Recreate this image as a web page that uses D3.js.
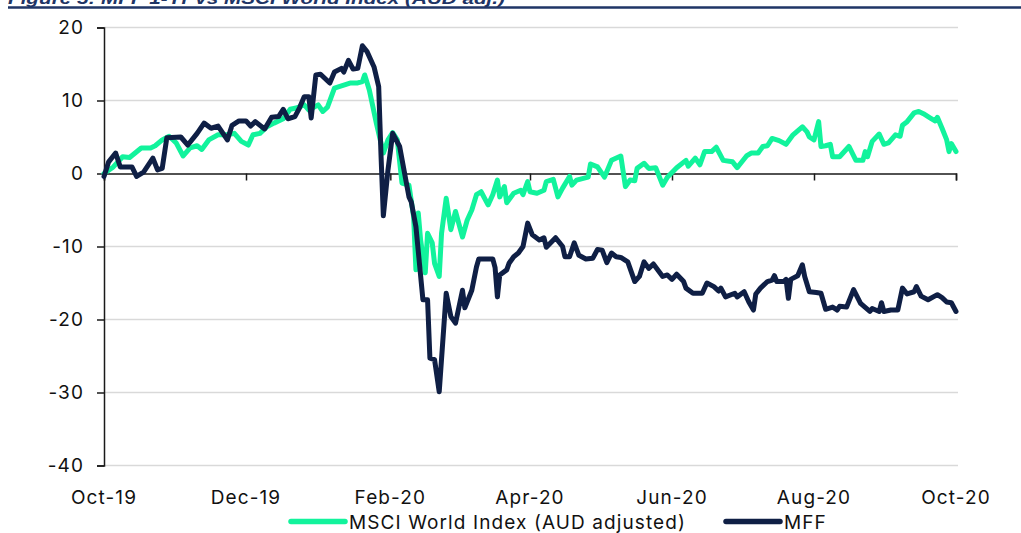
<!DOCTYPE html>
<html>
<head>
<meta charset="utf-8">
<script src="https://cdn.jsdelivr.net/npm/d3@7"></script>
<style>
  html, body { margin: 0; padding: 0; background: #fff; }
  svg { display: block; }
  text { font-family: Inter, "Noto Sans", sans-serif; fill: #111; }
</style>
</head>
<body>
<svg id="chart" width="1021" height="533"></svg>
<script>
// ---------- DATA ----------
const titleText = "Figure 5: MFF 1-Yr vs MSCI World Index (AUD adj.)";
const xTickLabels = ["Oct-19", "Dec-19", "Feb-20", "Apr-20", "Jun-20", "Aug-20", "Oct-20"];
const xTickDates = ["2019-10-01", "2019-12-01", "2020-02-01", "2020-04-01", "2020-06-01", "2020-08-01", "2020-10-01"];
const yTicks = [20, 10, 0, -10, -20, -30, -40];
const yTickLabels = ["20", "10", "0", "-10", "-20", "-30", "-40"];
const seriesNames = ["MSCI World Index (AUD adjusted)", "MFF"];

const msciData = [
  ["2019-10-01", 0.0], ["2019-10-05", 0.9], ["2019-10-09", 2.3], ["2019-10-12", 2.2], ["2019-10-17", 3.5],
  ["2019-10-21", 3.5], ["2019-10-23", 3.8], ["2019-10-26", 4.6], ["2019-10-29", 5.1], ["2019-11-01", 4.2],
  ["2019-11-04", 2.4], ["2019-11-07", 3.5], ["2019-11-10", 3.8], ["2019-11-12", 3.3], ["2019-11-15", 4.6],
  ["2019-11-19", 5.3], ["2019-11-23", 5.3], ["2019-11-26", 5.5], ["2019-11-29", 4.4], ["2019-12-02", 3.9],
  ["2019-12-04", 5.3], ["2019-12-07", 5.5], ["2019-12-10", 6.4], ["2019-12-13", 6.9], ["2019-12-17", 7.5],
  ["2019-12-20", 8.8], ["2019-12-23", 9.0], ["2019-12-26", 9.4], ["2019-12-28", 8.7], ["2020-01-01", 9.4],
  ["2020-01-03", 8.5], ["2020-01-05", 9.1], ["2020-01-08", 11.7], ["2020-01-12", 12.1], ["2020-01-15", 12.4],
  ["2020-01-18", 12.4], ["2020-01-20", 12.6], ["2020-01-21", 13.5], ["2020-01-23", 11.4], ["2020-01-26", 6.9],
  ["2020-01-29", 2.8], ["2020-01-31", 4.6], ["2020-02-02", 5.6], ["2020-02-04", 4.6], ["2020-02-06", -1.3],
  ["2020-02-09", -1.6], ["2020-02-11", -5.9], ["2020-02-12", -13.2], ["2020-02-13", -5.4], ["2020-02-14", -9.1],
  ["2020-02-16", -13.6], ["2020-02-17", -8.2], ["2020-02-19", -9.5], ["2020-02-20", -12.3], ["2020-02-22", -14.1],
  ["2020-02-23", -8.2], ["2020-02-25", -3.4], ["2020-02-27", -7.7], ["2020-02-29", -5.2], ["2020-03-03", -8.7],
  ["2020-03-05", -6.4], ["2020-03-07", -5.0], ["2020-03-09", -2.9], ["2020-03-11", -2.5], ["2020-03-14", -4.3],
  ["2020-03-16", -2.9], ["2020-03-18", -0.9], ["2020-03-19", -3.2], ["2020-03-21", -1.8], ["2020-03-22", -4.0],
  ["2020-03-25", -2.7], ["2020-03-28", -2.3], ["2020-03-29", -2.9], ["2020-03-31", -1.1], ["2020-04-01", -2.5],
  ["2020-04-04", -2.7], ["2020-04-07", -2.3], ["2020-04-08", -1.1], ["2020-04-11", -0.8], ["2020-04-13", -3.2],
  ["2020-04-15", -2.0], ["2020-04-18", -0.4], ["2020-04-19", -1.6], ["2020-04-21", -0.9], ["2020-04-26", -0.5],
  ["2020-04-27", 1.3], ["2020-04-30", 0.9], ["2020-05-03", -0.5], ["2020-05-06", 1.8], ["2020-05-10", 2.4],
  ["2020-05-12", -1.8], ["2020-05-14", -0.9], ["2020-05-16", -1.0], ["2020-05-17", 0.7], ["2020-05-20", 1.4],
  ["2020-05-22", 0.7], ["2020-05-25", 0.8], ["2020-05-28", -1.6], ["2020-05-30", -0.5], ["2020-06-03", 0.8],
  ["2020-06-07", 1.8], ["2020-06-08", 1.0], ["2020-06-11", 2.1], ["2020-06-13", 1.2], ["2020-06-15", 3.0],
  ["2020-06-18", 3.0], ["2020-06-20", 3.6], ["2020-06-23", 1.8], ["2020-06-27", 1.6], ["2020-06-29", 0.8],
  ["2020-06-30", 1.2], ["2020-07-03", 2.4], ["2020-07-05", 2.8], ["2020-07-08", 2.8], ["2020-07-10", 3.7],
  ["2020-07-12", 3.8], ["2020-07-14", 4.8], ["2020-07-17", 4.5], ["2020-07-20", 4.0], ["2020-07-23", 5.3],
  ["2020-07-27", 6.4], ["2020-07-29", 5.7], ["2020-07-30", 5.0], ["2020-08-01", 4.6], ["2020-08-03", 7.1],
  ["2020-08-04", 3.7], ["2020-08-06", 3.8], ["2020-08-08", 4.0], ["2020-08-09", 2.3], ["2020-08-12", 2.3],
  ["2020-08-16", 3.7], ["2020-08-19", 1.8], ["2020-08-22", 1.8], ["2020-08-23", 3.0], ["2020-08-24", 2.3],
  ["2020-08-26", 4.4], ["2020-08-29", 5.4], ["2020-08-31", 4.0], ["2020-09-02", 4.2], ["2020-09-05", 5.3],
  ["2020-09-07", 5.1], ["2020-09-08", 6.6], ["2020-09-10", 7.1], ["2020-09-13", 8.3], ["2020-09-15", 8.5],
  ["2020-09-17", 8.2], ["2020-09-20", 7.6], ["2020-09-22", 7.2], ["2020-09-23", 7.7], ["2020-09-25", 6.2],
  ["2020-09-27", 4.6], ["2020-09-28", 3.0], ["2020-09-29", 4.1], ["2020-10-01", 3.0]
];

const mffData = [
  ["2019-10-01", -0.4], ["2019-10-03", 1.6], ["2019-10-06", 2.8], ["2019-10-08", 0.9], ["2019-10-13", 0.9],
  ["2019-10-15", -0.4], ["2019-10-18", 0.2], ["2019-10-22", 2.1], ["2019-10-24", 0.5], ["2019-10-26", 0.7],
  ["2019-10-28", 4.9], ["2019-11-03", 5.0], ["2019-11-06", 3.9], ["2019-11-10", 5.5], ["2019-11-13", 6.9],
  ["2019-11-16", 6.2], ["2019-11-19", 6.5], ["2019-11-23", 4.6], ["2019-11-25", 6.6], ["2019-11-28", 7.2],
  ["2019-12-01", 7.2], ["2019-12-03", 6.5], ["2019-12-05", 7.1], ["2019-12-09", 6.1], ["2019-12-12", 7.7],
  ["2019-12-15", 7.8], ["2019-12-17", 8.8], ["2019-12-19", 7.5], ["2019-12-22", 7.8], ["2019-12-24", 9.0],
  ["2019-12-26", 10.5], ["2019-12-28", 10.5], ["2019-12-29", 7.6], ["2019-12-31", 13.5], ["2020-01-02", 13.6],
  ["2020-01-06", 12.4], ["2020-01-08", 13.9], ["2020-01-11", 14.4], ["2020-01-12", 13.9], ["2020-01-14", 15.5],
  ["2020-01-16", 14.3], ["2020-01-18", 14.4], ["2020-01-20", 17.5], ["2020-01-22", 16.7], ["2020-01-25", 14.6],
  ["2020-01-27", 11.9], ["2020-01-28", 2.5], ["2020-01-29", -5.8], ["2020-01-31", 0.5], ["2020-02-02", 5.5],
  ["2020-02-05", 3.7], ["2020-02-09", -3.2], ["2020-02-10", -3.9], ["2020-02-12", -7.3], ["2020-02-15", -17.3],
  ["2020-02-17", -17.3], ["2020-02-18", -25.3], ["2020-02-20", -25.5], ["2020-02-22", -29.9], ["2020-02-25", -16.4],
  ["2020-02-27", -19.6], ["2020-02-29", -20.5], ["2020-03-03", -16.0], ["2020-03-04", -18.4], ["2020-03-07", -16.0],
  ["2020-03-09", -12.8], ["2020-03-10", -11.7], ["2020-03-16", -11.7], ["2020-03-17", -12.9], ["2020-03-18", -16.9],
  ["2020-03-19", -13.9], ["2020-03-22", -13.2], ["2020-03-23", -12.3], ["2020-03-25", -11.4], ["2020-03-27", -10.9],
  ["2020-03-29", -10.0], ["2020-03-31", -6.8], ["2020-04-02", -8.4], ["2020-04-05", -9.1], ["2020-04-07", -8.8],
  ["2020-04-08", -10.1], ["2020-04-12", -8.8], ["2020-04-15", -10.0], ["2020-04-16", -11.4], ["2020-04-18", -11.4],
  ["2020-04-20", -9.5], ["2020-04-22", -11.2], ["2020-04-25", -11.7], ["2020-04-28", -11.6], ["2020-04-30", -10.4],
  ["2020-05-02", -10.5], ["2020-05-04", -12.2], ["2020-05-06", -10.9], ["2020-05-08", -11.4], ["2020-05-10", -11.5],
  ["2020-05-13", -12.1], ["2020-05-16", -14.8], ["2020-05-18", -14.1], ["2020-05-20", -12.1], ["2020-05-22", -13.0],
  ["2020-05-24", -12.4], ["2020-05-28", -14.1], ["2020-05-30", -13.9], ["2020-06-01", -14.5], ["2020-06-03", -13.8],
  ["2020-06-06", -14.8], ["2020-06-07", -15.7], ["2020-06-10", -16.4], ["2020-06-14", -16.4], ["2020-06-16", -15.0],
  ["2020-06-19", -15.5], ["2020-06-21", -16.1], ["2020-06-22", -15.7], ["2020-06-24", -16.9], ["2020-06-28", -16.4],
  ["2020-06-29", -16.9], ["2020-07-02", -16.2], ["2020-07-04", -17.6], ["2020-07-06", -18.7], ["2020-07-07", -16.5],
  ["2020-07-09", -15.7], ["2020-07-12", -14.8], ["2020-07-14", -14.6], ["2020-07-15", -14.0], ["2020-07-16", -14.8],
  ["2020-07-19", -14.8], ["2020-07-20", -14.5], ["2020-07-21", -17.1], ["2020-07-22", -14.5], ["2020-07-25", -14.0],
  ["2020-07-27", -12.5], ["2020-07-28", -14.1], ["2020-07-30", -16.2], ["2020-08-02", -16.3], ["2020-08-04", -16.4],
  ["2020-08-06", -18.6], ["2020-08-09", -18.3], ["2020-08-11", -18.7], ["2020-08-12", -18.2], ["2020-08-15", -18.3],
  ["2020-08-18", -15.9], ["2020-08-21", -17.8], ["2020-08-25", -18.9], ["2020-08-26", -18.5], ["2020-08-29", -18.9],
  ["2020-08-30", -17.7], ["2020-08-31", -18.9], ["2020-09-03", -18.7], ["2020-09-06", -18.7], ["2020-09-08", -15.7],
  ["2020-09-10", -16.5], ["2020-09-13", -16.2], ["2020-09-14", -15.5], ["2020-09-16", -16.8], ["2020-09-19", -17.3],
  ["2020-09-23", -16.6], ["2020-09-25", -17.0], ["2020-09-27", -17.6], ["2020-09-29", -17.7], ["2020-10-01", -18.9]
];

// ---------- STYLE / LAYOUT ----------
const colors = { msci: "#12f39c", mff: "#0f1f45", grid: "#d9d9d9", axis: "#1a1a1a", rule: "#1f3566" };
const plot = { left: 104, right: 956, top: 27.5, bottom: 465.5 };
const labelFont = { size: "19px", spacing: "1.1px" };

const svg = d3.select("#chart");
const parse = d3.timeParse("%Y-%m-%d");

const x = d3.scaleTime()
  .domain([parse(xTickDates[0]), parse(xTickDates[xTickDates.length - 1])])
  .range([plot.left, plot.right]);
const y = d3.scaleLinear().domain([-40, 20]).range([plot.bottom, plot.top]);

// title (clipped at top of image) and rule
svg.append("text")
  .attr("x", 8).attr("y", 4)
  .attr("textLength", 497).attr("lengthAdjust", "spacingAndGlyphs")
  .style("font-family", "'Liberation Sans', Arial, sans-serif")
  .style("font-weight", "bold").style("font-style", "italic")
  .style("font-size", "17px").style("fill", colors.rule)
  .text(titleText);
svg.append("line")
  .attr("x1", 8).attr("x2", 1021).attr("y1", 7.5).attr("y2", 7.5)
  .attr("stroke", colors.rule).attr("stroke-width", 2.5);

// gridlines
svg.append("g").selectAll("line").data(yTicks.filter(d => d !== 0)).join("line")
  .attr("x1", plot.left).attr("x2", plot.right + 2)
  .attr("y1", d => y(d)).attr("y2", d => y(d))
  .attr("stroke", colors.grid).attr("stroke-width", 1.5);

// y axis
const yAxis = d3.axisLeft(y).tickValues(yTicks).tickSize(7).tickPadding(13)
  .tickFormat((d, i) => yTickLabels[i]);
const gy = svg.append("g").attr("transform", `translate(${plot.left},0)`).call(yAxis);
gy.select(".domain").attr("stroke", colors.axis).attr("stroke-width", 1.5);
gy.selectAll(".tick line").attr("stroke", colors.axis).attr("stroke-width", 1.5);
gy.selectAll(".tick text").style("font-size", labelFont.size).style("letter-spacing", labelFont.spacing)
  .style("font-family", "Inter, sans-serif").attr("fill", "#111");

// x axis at zero
const tickDates = xTickDates.map(parse);
const xAxis = d3.axisBottom(x).tickValues(tickDates).tickSize(7).tickFormat("");
const gx = svg.append("g").attr("transform", `translate(0,${y(0)})`).call(xAxis);
gx.select(".domain").attr("stroke", colors.axis).attr("stroke-width", 1.5);
gx.selectAll(".tick line").attr("stroke", colors.axis).attr("stroke-width", 1.5);

// x labels at bottom
svg.append("g").selectAll("text").data(tickDates).join("text")
  .attr("x", d => x(d)).attr("y", 504)
  .attr("text-anchor", "middle")
  .style("font-size", labelFont.size).style("letter-spacing", labelFont.spacing)
  .text((d, i) => xTickLabels[i]);

// lines
const line = d3.line().x(d => x(parse(d[0]))).y(d => y(d[1]));
svg.append("path").datum(msciData)
  .attr("fill", "none").attr("stroke", colors.msci).attr("stroke-width", 5)
  .attr("stroke-linejoin", "round").attr("stroke-linecap", "round")
  .attr("d", line);
svg.append("path").datum(mffData)
  .attr("fill", "none").attr("stroke", colors.mff).attr("stroke-width", 5)
  .attr("stroke-linejoin", "round").attr("stroke-linecap", "round")
  .attr("d", line);

// legend
const legendItems = [
  { name: seriesNames[0], color: colors.msci, x1: 291, x2: 345, tx: 349 },
  { name: seriesNames[1], color: colors.mff, x1: 726, x2: 780, tx: 784 }
];
const lg = svg.append("g");
legendItems.forEach(it => {
  lg.append("line").attr("x1", it.x1).attr("x2", it.x2).attr("y1", 521.5).attr("y2", 521.5)
    .attr("stroke", it.color).attr("stroke-width", 5.5).attr("stroke-linecap", "round");
  lg.append("text").attr("x", it.tx).attr("y", 529)
    .style("font-size", labelFont.size).style("letter-spacing", labelFont.spacing)
    .text(it.name);
});
</script>
</body>
</html>
